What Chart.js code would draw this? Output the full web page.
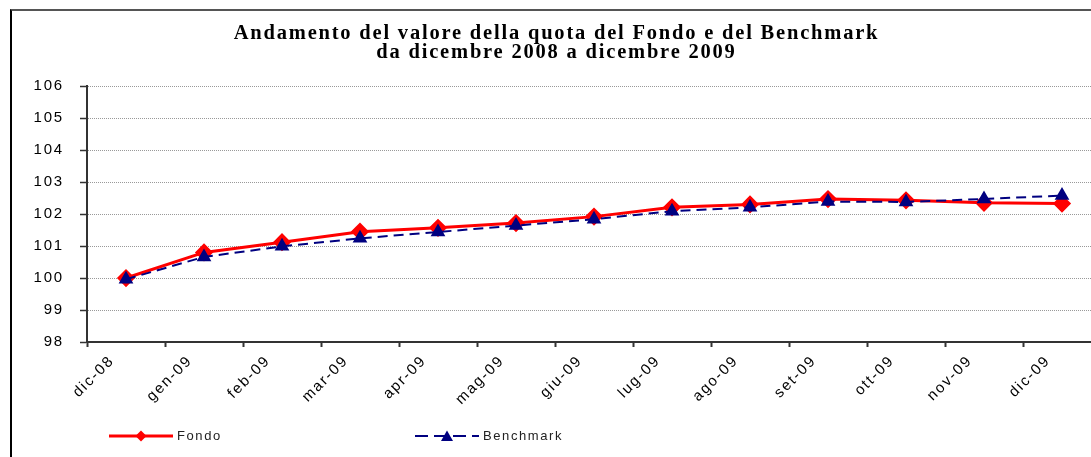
<!DOCTYPE html>
<html>
<head>
<meta charset="utf-8">
<script src="https://cdn.jsdelivr.net/npm/chart.js@4"></script>
<style>
  html, body { margin: 0; padding: 0; background: #fff; overflow: hidden; width: 1091px; height: 457px; }
  #frame { position: absolute; left: 10px; top: 9px; width: 1110px; height: 470px;
           border-left: 2px solid #000; border-top: 2px solid #555; }
  #box { position: absolute; left: 0; top: 0; width: 1100px; height: 420px; }
  .leg { position: absolute; top: 428px; height: 16px; font: 13px 'Liberation Sans', Arial, sans-serif;
         letter-spacing: 1.6px; color: #222; line-height: 16px; }
  .leg svg { position: absolute; top: 1px; }
  .leg span { position: absolute; top: 0; white-space: nowrap; }
</style>
</head>
<body>
<div id="frame"><div id="box"><canvas id="myChart"></canvas></div></div>

<div class="leg" style="left:109px">
  <svg width="64" height="14"><line x1="0" y1="7" x2="64" y2="7" stroke="#ff0000" stroke-width="3"/>
    <polygon points="32,1.5 37.5,7 32,12.5 26.5,7" fill="#ff0000"/></svg>
  <span style="left:68px">Fondo</span>
</div>
<div class="leg" style="left:415px">
  <svg width="64" height="14"><line x1="0" y1="7" x2="64" y2="7" stroke="#000080" stroke-width="2" stroke-dasharray="13 6"/>
    <polygon points="32,1.5 38,12 26,12" fill="#000080"/></svg>
  <span style="left:68px">Benchmark</span>
</div>

<script>
// dati
const mesi = ['dic-08', 'gen-09', 'feb-09', 'mar-09', 'apr-09', 'mag-09', 'giu-09',
              'lug-09', 'ago-09', 'set-09', 'ott-09', 'nov-09', 'dic-09'];
const fondo = [100.00, 100.80, 101.12, 101.45, 101.57, 101.72, 101.92,
               102.21, 102.30, 102.47, 102.43, 102.35, 102.33];
const benchmark = [99.96, 100.66, 100.99, 101.24, 101.44, 101.64, 101.84,
                   102.09, 102.21, 102.39, 102.38, 102.47, 102.58];
const titolo = ['Andamento del valore della quota del Fondo e del Benchmark',
                'da dicembre 2008 a dicembre 2009'];

// testo un po' spaziato come nell'originale
const spacing = {
    id: 'spacing',
    beforeUpdate(chart) { chart.ctx.letterSpacing = '1.8px'; },
    beforeDraw(chart) { chart.ctx.letterSpacing = '1.8px'; }
};

const data = {
    labels: mesi,
    datasets: [{
        label: 'Fondo',
        data: fondo,
        borderColor: '#ff0000',
        backgroundColor: '#ff0000',
        borderWidth: 3,
        pointStyle: 'rectRot',
        pointRadius: 7,
        pointHoverRadius: 7,
        tension: 0,
        order: 1
    }, {
        label: 'Benchmark',
        data: benchmark,
        borderColor: '#000080',
        backgroundColor: '#000080',
        borderWidth: 2,
        borderDash: [10, 6],
        pointStyle: 'triangle',
        pointRadius: 6.5,
        pointHoverRadius: 6.5,
        tension: 0,
        order: 0
    }]
};

const config = {
    type: 'line',
    data: data,
    options: {
        responsive: true,
        maintainAspectRatio: false,
        animation: false,
        layout: { padding: { left: 0, right: 11, top: 0, bottom: 0 } },
        plugins: {
            legend: { display: false },
            tooltip: { enabled: false },
            title: {
                display: true,
                text: titolo,
                color: '#000',
                font: { family: "'Liberation Serif', 'Times New Roman', serif", size: 20.5, weight: 'bold', lineHeight: 0.93 },
                padding: { top: 13, bottom: 24 }
            }
        },
        scales: {
            x: {
                offset: true,
                grid: { display: true, offset: true, drawOnChartArea: false, tickLength: 5, tickColor: '#333', tickWidth: 2 },
                border: { display: true, color: '#333', width: 2 },
                ticks: {
                    color: '#000',
                    font: { family: "'Liberation Sans', Arial, sans-serif", size: 15 },
                    minRotation: 45,
                    maxRotation: 45,
                    labelOffset: -14,
                    padding: 5,
                    autoSkip: false
                },
                afterFit(scale) { scale.height = 89; }
            },
            y: {
                min: 98,
                max: 106,
                grid: { color: '#999', lineWidth: 1, tickLength: 7, tickColor: '#333', tickWidth: 1.5, tickBorderDash: [] },
                border: { display: true, color: '#333', width: 2, dash: [1, 1] },
                ticks: {
                    stepSize: 1,
                    color: '#000',
                    padding: 16,
                    font: { family: "'Liberation Sans', Arial, sans-serif", size: 15 }
                },
                afterFit(scale) { scale.width = 75; }
            }
        }
    },
    plugins: [spacing]
};

const myChart = new Chart(document.getElementById('myChart'), config);
</script>
</body>
</html>
